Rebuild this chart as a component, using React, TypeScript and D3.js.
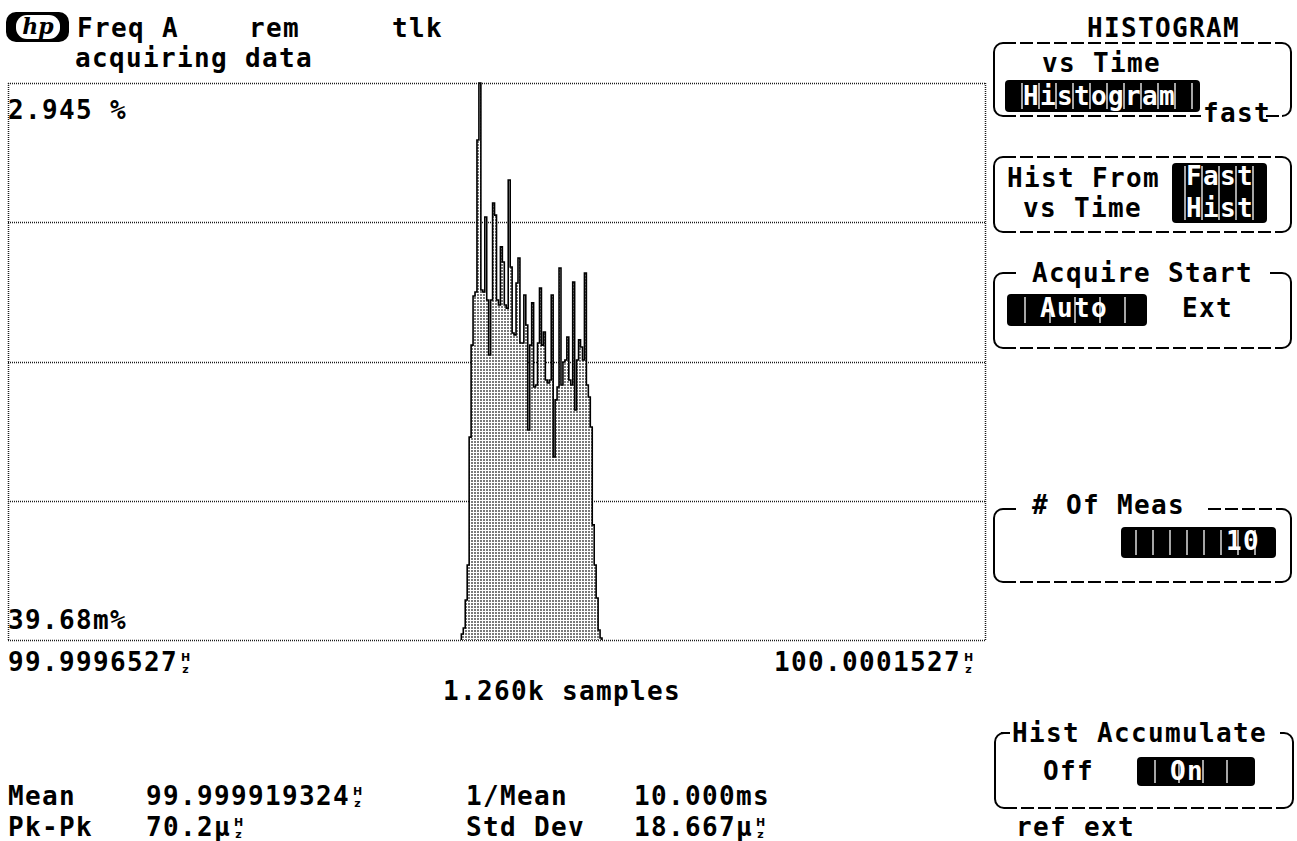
import React from 'react';
import * as d3 from 'd3';

const W = 1297;
const H = 841;

// Frequency axis: span shown on the display, as offsets in µHz from the left label
const X_MIN_LABEL = '99.9996527';
const X_MAX_LABEL = '100.0001527';
const SPAN_UHZ = 500;

// Percent axis limits
const Y_MAX_PCT = 2.945;
const Y_MIN_PCT = 0.03968;
const Y_MAX_LABEL = '2.945 %';
const Y_MIN_LABEL = '39.68m%';
const GRID_DIVISIONS = 4;

// Histogram bins (1 µHz wide), starting this many µHz above the left edge
const BIN_START_UHZ = 232;
const BIN_WIDTH_UHZ = 1;
const binPercent = [
  0.071, 0.102, 0.248, 0.431, 1.098, 1.578, 1.834, 1.855, 2.648, 2.945,
  1.865, 1.855, 2.246, 1.813, 1.526, 1.813, 2.319, 2.256, 1.813, 1.787,
  2.09, 2.011, 1.787, 1.771, 2.439, 1.985, 1.641, 1.631, 1.902, 2.032,
  1.589, 1.589, 1.839, 1.683, 1.135, 1.578, 1.798, 1.359, 1.37, 1.589,
  1.876, 1.578, 1.646, 1.396, 1.38, 1.396, 1.839, 0.994, 1.292, 1.359,
  1.98, 1.37, 1.49, 1.5, 1.62, 1.396, 1.37, 1.907, 1.239, 1.5,
  1.605, 1.568, 1.5, 1.954, 1.37, 1.307, 1.151, 0.64, 0.431, 0.259,
  0.092, 0.05,
];

// Status and statistics read-outs
const SAMPLES_LABEL = '1.260k samples';
const MEAN_LABEL = '99.999919324';
const PKPK_LABEL = '70.2µ';
const INV_MEAN_LABEL = '10.000ms';
const STD_DEV_LABEL = '18.667µ';
const NUM_MEAS = '10';

const PLOT = { left: 8, right: 985, top: 83, bottom: 640 };
const FONT = "'DejaVu Sans Mono', 'Liberation Mono', monospace";
const ADV = 17;

const T = ({ x, y, children, fill = '#000', size = 26, anchor = 'start' }: any) => (
  <text
    x={x}
    y={y}
    fill={fill}
    fontFamily={FONT}
    fontWeight="bold"
    fontSize={size}
    letterSpacing={size === 26 ? 1.35 : 0}
    textAnchor={anchor}
  >
    {children}
  </text>
);

// A reading followed by the stacked "Hz" unit glyph (small H over small z)
const HzValue = ({ x, y, value }: any) => {
  const ux = x + value.length * ADV + 7.5;
  return (
    <g>
      <T x={x} y={y}>{value}</T>
      <text x={ux} y={y - 10.5} textAnchor="middle" fontFamily="'DejaVu Sans', sans-serif" fontWeight="bold" fontSize={11} fill="#000">
        H
      </text>
      <text x={ux} y={y + 2.4} textAnchor="middle" fontFamily="'DejaVu Sans', sans-serif" fontWeight="bold" fontSize={11} fill="#000">
        z
      </text>
    </g>
  );
};

const InvBox = ({ x, y, w, h, step = ADV, first }: any) => {
  const seps: number[] = [];
  for (let s = x + (first ?? step); s < x + w - 4; s += step) seps.push(s);
  return (
    <g>
      <rect x={x} y={y} width={w} height={h} rx={4} fill="#000" />
      {seps.map((s, i) => (
        <line key={i} x1={s} x2={s} y1={y + 3} y2={y + h - 3} stroke="#fff" strokeWidth={1.3} />
      ))}
    </g>
  );
};

// Soft-key frame: solid rounded sides, dashed top and bottom edges
const KeyBox = ({ x1, x2, top, bottom, topSegs, bottomSegs }: any) => {
  const r = 9;
  const dash = '13 4';
  const tSegs = topSegs ?? [[x1 + r, x2 - r]];
  const bSegs = bottomSegs ?? [[x1 + r, x2 - r]];
  return (
    <g stroke="#000" strokeWidth={2} fill="none">
      <path d={`M${x1 + r},${top} A${r},${r} 0 0 0 ${x1},${top + r} L${x1},${bottom - r} A${r},${r} 0 0 0 ${x1 + r},${bottom}`} />
      <path d={`M${x2 - r},${top} A${r},${r} 0 0 1 ${x2},${top + r} L${x2},${bottom - r} A${r},${r} 0 0 1 ${x2 - r},${bottom}`} />
      {tSegs.map((s: number[], i: number) => (
        <line key={'t' + i} x1={s[0]} x2={s[1]} y1={top} y2={top} strokeDasharray={dash} />
      ))}
      {bSegs.map((s: number[], i: number) => (
        <line key={'b' + i} x1={s[0]} x2={s[1]} y1={bottom} y2={bottom} strokeDasharray={dash} />
      ))}
    </g>
  );
};

export default function App() {
  const x = d3.scaleLinear().domain([0, SPAN_UHZ]).range([PLOT.left, PLOT.right]);
  const y = d3.scaleLinear().domain([Y_MIN_PCT, Y_MAX_PCT]).range([PLOT.bottom, PLOT.top]);

  const gridValues = d3.range(GRID_DIVISIONS + 1).map(
    (i) => Y_MIN_PCT + (i * (Y_MAX_PCT - Y_MIN_PCT)) / GRID_DIVISIONS
  );

  const n = binPercent.length;
  const pts: [number, number][] = [
    [BIN_START_UHZ, Y_MIN_PCT],
    ...binPercent.map((v, i) => [BIN_START_UHZ + i * BIN_WIDTH_UHZ, v] as [number, number]),
    [BIN_START_UHZ + n * BIN_WIDTH_UHZ, Y_MIN_PCT],
  ];
  const area = d3
    .area<[number, number]>()
    .x((d) => x(d[0]))
    .y0(y(Y_MIN_PCT))
    .y1((d) => y(d[1]))
    .curve(d3.curveStepAfter);
  const line = d3
    .line<[number, number]>()
    .x((d) => x(d[0]))
    .y((d) => y(d[1]))
    .curve(d3.curveStepAfter);

  return (
    <svg
      width={W}
      height={H}
      viewBox={`0 0 ${W} ${H}`}
      style={{ position: 'absolute', left: 0, top: 0, background: '#fff', display: 'block' }}
    >
      <defs>
        <pattern id="stipple" width={3} height={3} patternUnits="userSpaceOnUse">
          <rect width={3} height={3} fill="#fff" />
          <rect x={0} y={0} width={2} height={2} fill="#7a7a7a" />
        </pattern>
      </defs>
      <rect width={W} height={H} fill="#fff" />

      {/* header */}
      <g>
        <rect x={6} y={12} width={63} height={30} rx={10} fill="#000" />
        <rect x={16} y={15} width={44} height={24} rx={11} fill="#fff" />
        <text x={38} y={34} textAnchor="middle" fontFamily="'DejaVu Serif', serif" fontStyle="italic" fontWeight="bold" fontSize={22} fill="#000">
          hp
        </text>
      </g>
      <T x={77} y={37}>Freq A</T>
      <T x={249} y={37}>rem</T>
      <T x={392} y={37}>tlk</T>
      <T x={75} y={67}>acquiring data</T>

      {/* grid */}
      <g stroke="#1a1a1a" strokeWidth={1.5} strokeDasharray="1 1">
        {gridValues.map((v, i) => (
          <line key={i} x1={PLOT.left} x2={PLOT.right} y1={Math.round(y(v)) + 0.5} y2={Math.round(y(v)) + 0.5} />
        ))}
        <line x1={PLOT.left + 0.5} x2={PLOT.left + 0.5} y1={PLOT.top} y2={PLOT.bottom} />
        <line x1={PLOT.right + 0.5} x2={PLOT.right + 0.5} y1={PLOT.top} y2={PLOT.bottom} />
      </g>

      {/* histogram */}
      <path d={area(pts) ?? ''} fill="url(#stipple)" />
      <path d={line(pts) ?? ''} fill="none" stroke="#000" strokeWidth={1.6} />

      {/* axis read-outs */}
      <T x={8} y={119}>{Y_MAX_LABEL}</T>
      <T x={8} y={629}>{Y_MIN_LABEL}</T>
      <HzValue x={8} y={671} value={X_MIN_LABEL} />
      <HzValue x={774} y={671} value={X_MAX_LABEL} />
      <T x={443} y={700}>{SAMPLES_LABEL}</T>

      {/* statistics */}
      <T x={8} y={805}>Mean</T>
      <HzValue x={146} y={805} value={MEAN_LABEL} />
      <T x={466} y={805}>1/Mean</T>
      <T x={634} y={805}>{INV_MEAN_LABEL}</T>
      <T x={8} y={836}>Pk-Pk</T>
      <HzValue x={146} y={836} value={PKPK_LABEL} />
      <T x={466} y={836}>Std Dev</T>
      <HzValue x={634} y={836} value={STD_DEV_LABEL} />

      {/* soft-key menu */}
      <T x={1087} y={37}>HISTOGRAM</T>

      <KeyBox x1={994} x2={1291} top={43} bottom={116} bottomSegs={[[1003, 1201], [1266, 1282]]} />
      <T x={1042} y={72}>vs Time</T>
      <InvBox x={1005} y={80} w={195} h={32} />
      <T x={1023} y={105} fill="#fff">Histogram</T>
      <T x={1203} y={122}>fast</T>

      <KeyBox x1={994} x2={1291} top={157} bottom={232} />
      <T x={1007} y={187}>Hist From</T>
      <T x={1023} y={217}>vs Time</T>
      <InvBox x={1172} y={163} w={95} h={60} first={13} />
      <T x={1186} y={185} fill="#fff">Fast</T>
      <T x={1186} y={217} fill="#fff">Hist</T>

      <KeyBox x1={994} x2={1291} top={273} bottom={348} topSegs={[[1003, 1016], [1270, 1282]]} />
      <T x={1032} y={282}>Acquire Start</T>
      <InvBox x={1007} y={294} w={140} h={32} step={25} first={18} />
      <T x={1040} y={317} fill="#fff">Auto</T>
      <T x={1182} y={317}>Ext</T>

      <KeyBox x1={994} x2={1291} top={509} bottom={582} topSegs={[[1003, 1016], [1208, 1282]]} />
      <T x={1032} y={514}>{'# Of Meas'}</T>
      <InvBox x={1121} y={527} w={155} h={31} first={15} />
      <T x={1226} y={550} fill="#fff">{NUM_MEAS}</T>

      <KeyBox x1={995} x2={1293} top={733} bottom={808} topSegs={[[1001, 1010], [1280, 1284]]} />
      <T x={1012} y={742}>Hist Accumulate</T>
      <T x={1043} y={780}>Off</T>
      <InvBox x={1137} y={757} w={118} h={29} step={24} first={18} />
      <T x={1170} y={780} fill="#fff">On</T>
      <T x={1016} y={836}>ref ext</T>
    </svg>
  );
}
